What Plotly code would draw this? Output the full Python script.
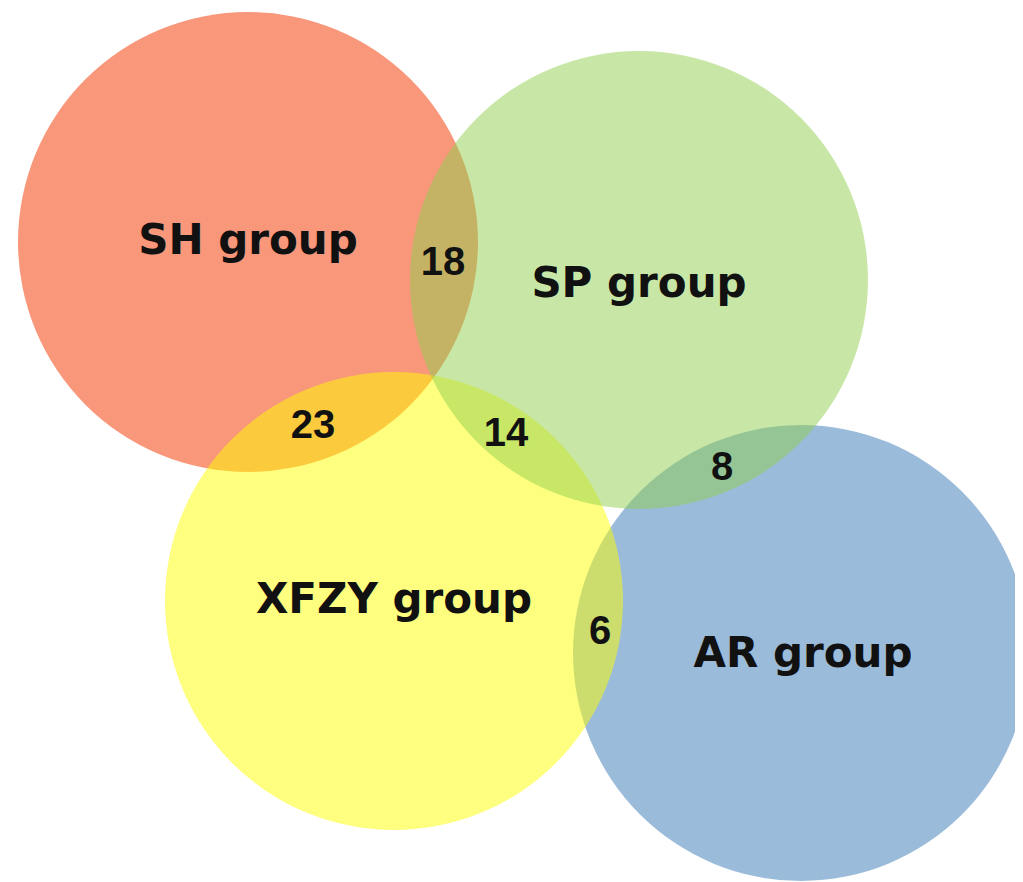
import plotly.graph_objects as go

# --- data ---
groups = ["SH group", "AR group", "XFZY group", "SP group"]
group_cx = [248, 801, 394, 639]
group_cy = [242, 653, 601, 280]
group_r = [230, 228, 229, 229]
group_colors = ["rgb(249,151,123)", "rgb(155,187,218)",
                "rgba(255,255,0,0.5)", "rgba(146,208,80,0.5)"]

label_x = [248, 803, 394, 639]
label_y = [243, 656, 602, 286]

overlap_counts = ["18", "23", "14", "8", "6"]
overlap_x = [443, 313, 506, 722, 600]
overlap_y = [265, 428, 436, 470, 634]

W, H = 1023, 882
OFF = 8  # page body margin around the figure
LABEL_FONT = "DejaVu Sans"
NUM_FONT = "Liberation Sans"

fig = go.Figure()

shapes = []
for cx, cy, r, col in zip(group_cx, group_cy, group_r, group_colors):
    shapes.append(dict(type="circle", xref="x", yref="y",
                       x0=cx - r, x1=cx + r, y0=cy - r, y1=cy + r,
                       fillcolor=col, line=dict(width=0), layer="below"))

fig.add_trace(go.Scatter(x=label_x, y=label_y, mode="text", text=groups,
                         textposition="middle center",
                         textfont=dict(family=LABEL_FONT, size=42, color="#111111",
                                       weight="bold"),
                         hoverinfo="skip", showlegend=False))
fig.add_trace(go.Scatter(x=overlap_x, y=overlap_y, mode="text", text=overlap_counts,
                         textposition="middle center",
                         textfont=dict(family=NUM_FONT, size=40, color="#111111",
                                       weight="bold"),
                         hoverinfo="skip", showlegend=False))

fig.update_layout(
    width=W, height=H, margin=dict(l=0, r=0, t=0, b=0),
    paper_bgcolor="white", plot_bgcolor="white",
    shapes=shapes,
    xaxis=dict(range=[OFF, W + OFF], visible=False, fixedrange=True),
    yaxis=dict(range=[H + OFF, OFF], visible=False, fixedrange=True),
    showlegend=False,
)

fig.write_html("out.html")
